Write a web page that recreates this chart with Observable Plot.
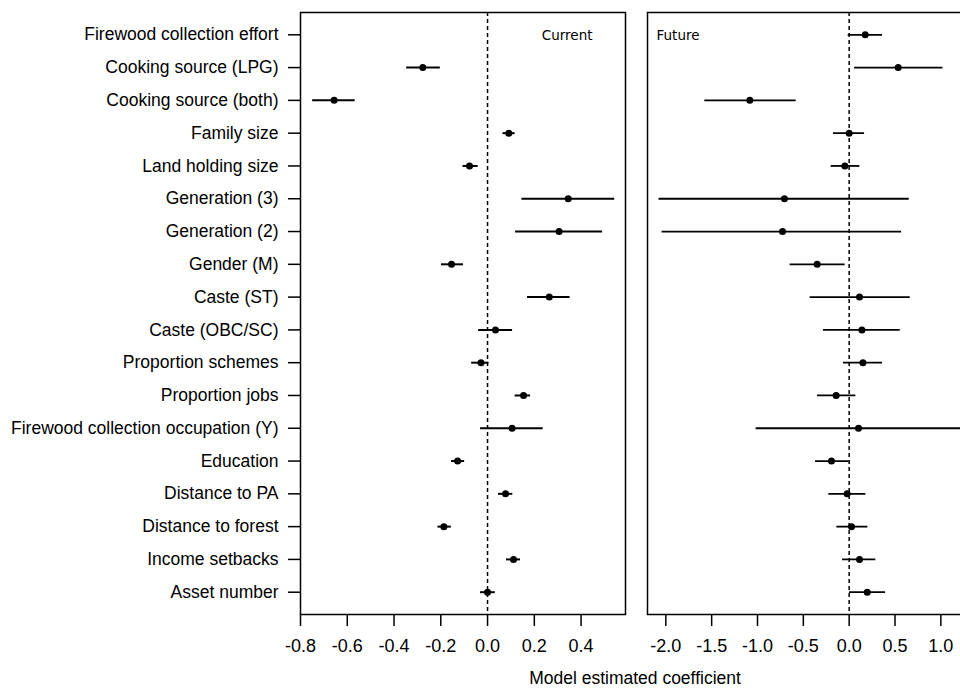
<!DOCTYPE html>
<html>
<head>
<meta charset="utf-8">
<script src="https://cdn.jsdelivr.net/npm/d3@7"></script>
<script src="https://cdn.jsdelivr.net/npm/@observablehq/plot@0.6"></script>
<style>
  html, body { margin: 0; padding: 0; background: #fff; overflow: hidden; }
  #wrap { position: relative; width: 960px; height: 688px; overflow: hidden; font-family: "Liberation Sans", Arial, sans-serif; }
  #left, #right { position: absolute; top: 0; }
  #left { left: 0; width: 636px; }
  #right { left: 636px; width: 361px; }
  #left svg, #right svg { max-width: none !important; }
  #xlabel { position: absolute; top: 668px; left: 635px; transform: translateX(-50%); white-space: nowrap; font-size: 17.5px; color: #000; }
</style>
</head>
<body>
<div id="wrap">
  <div id="left"></div>
  <div id="right"></div>
  <div id="xlabel">Model estimated coefficient</div>
</div>
<script>
const labels = [
  "Firewood collection effort",
  "Cooking source (LPG)",
  "Cooking source (both)",
  "Family size",
  "Land holding size",
  "Generation (3)",
  "Generation (2)",
  "Gender (M)",
  "Caste (ST)",
  "Caste (OBC/SC)",
  "Proportion schemes",
  "Proportion jobs",
  "Firewood collection occupation (Y)",
  "Education",
  "Distance to PA",
  "Distance to forest",
  "Income setbacks",
  "Asset number"
];

// Current model
const curEst = [null, -0.277, -0.656, 0.091, -0.077, 0.345, 0.306, -0.154, 0.264, 0.034, -0.028, 0.154, 0.105, -0.128, 0.077, -0.187, 0.111, 0.000];
const curLo  = [null, -0.346, -0.748, 0.066, -0.105, 0.147, 0.120, -0.197, 0.171, -0.038, -0.068, 0.118, -0.030, -0.154, 0.047, -0.212, 0.081, -0.030];
const curHi  = [null, -0.202, -0.566, 0.118, -0.040, 0.544, 0.492, -0.103, 0.353, 0.107, 0.006, 0.184, 0.238, -0.098, 0.108, -0.155, 0.141, 0.033];

// Future model
const futEst = [0.175, 0.535, -1.084, 0.000, -0.047, -0.706, -0.727, -0.349, 0.113, 0.139, 0.150, -0.142, 0.102, -0.193, -0.022, 0.026, 0.113, 0.197];
const futLo  = [-0.011, 0.059, -1.575, -0.171, -0.196, -2.074, -2.041, -0.644, -0.426, -0.280, -0.062, -0.345, -1.015, -0.367, -0.222, -0.134, -0.072, 0.004];
const futHi  = [0.364, 1.023, -0.578, 0.168, 0.117, 0.655, 0.572, -0.044, 0.666, 0.557, 0.364, 0.073, 1.400, 0.000, 0.182, 0.204, 0.291, 0.397];

const leftTicks = [-0.8, -0.6, -0.4, -0.2, 0.0, 0.2, 0.4];
const rightTicks = [-2.0, -1.5, -1.0, -0.5, 0.0, 0.5, 1.0];
const panelNames = ["Current", "Future"];

const cur = labels.map((l, i) => ({label: l, est: curEst[i], lo: curLo[i], hi: curHi[i]})).filter(d => d.est !== null);
const fut = labels.map((l, i) => ({label: l, est: futEst[i], lo: futLo[i], hi: futHi[i]}));

const fmt = d => d.toFixed(1);
const H = 688, MT = 12, MB = 74;
const yScale = {type: "point", domain: labels, padding: 0.68, round: false};
const style = {fontFamily: "'Liberation Sans', Arial, sans-serif", fontSize: "17.5px", color: "#000", background: "#fff", overflow: "visible", maxWidth: "none"};
const panelFont = {fontFamily: "'DejaVu Sans', sans-serif", fontSize: 13.5, fill: "#000", lineAnchor: "middle"};

const left = Plot.plot({
  width: 636, height: H,
  marginLeft: 300, marginRight: 11, marginTop: MT, marginBottom: MB,
  style,
  x: {domain: [-0.8, 0.59]},
  y: yScale,
  marks: [
    Plot.axisX({ticks: leftTicks, tickFormat: fmt, tickSize: 12, tickPadding: 13, strokeWidth: 1.5, fontSize: 18, label: null}),
    Plot.axisY({tickSize: 12, tickPadding: 10, strokeWidth: 1.5, label: null}),
    Plot.ruleX([0], {stroke: "#000", strokeWidth: 1.5, strokeDasharray: "4,3"}),
    Plot.ruleY(cur, {y: "label", x1: "lo", x2: "hi", stroke: "#000", strokeWidth: 2}),
    Plot.dot(cur, {y: "label", x: "est", r: 3.5, fill: "#000", stroke: "none"}),
    Plot.text([panelNames[0]], {text: d => d, frameAnchor: "top-right", dx: -33, dy: 23, ...panelFont}),
    Plot.frame({stroke: "#000", strokeWidth: 1.5})
  ]
});
document.getElementById("left").append(left);

const right = Plot.plot({
  width: 361, height: H,
  marginLeft: 11, marginRight: 20, marginTop: MT, marginBottom: MB,
  style,
  x: {domain: [-2.2, 1.4]},
  y: {...yScale, axis: null},
  marks: [
    Plot.axisX({ticks: rightTicks, tickFormat: fmt, tickSize: 12, tickPadding: 13, strokeWidth: 1.5, fontSize: 18, label: null}),
    Plot.ruleX([0], {stroke: "#000", strokeWidth: 1.5, strokeDasharray: "4,3"}),
    Plot.ruleY(fut, {y: "label", x1: "lo", x2: "hi", stroke: "#000", strokeWidth: 1.8}),
    Plot.dot(fut, {y: "label", x: "est", r: 3.5, fill: "#000", stroke: "none"}),
    Plot.text([panelNames[1]], {text: d => d, frameAnchor: "top-left", dx: 9, dy: 23, ...panelFont}),
    Plot.frame({stroke: "#000", strokeWidth: 1.5})
  ]
});
document.getElementById("right").append(right);
</script>
</body>
</html>
